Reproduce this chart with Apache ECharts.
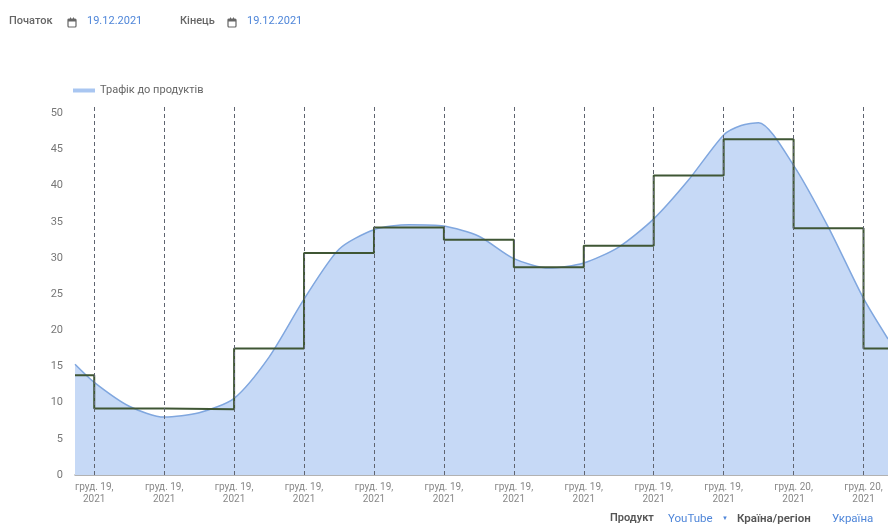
<!DOCTYPE html>
<html>
<head>
<meta charset="utf-8">
<script src="https://cdn.jsdelivr.net/npm/echarts@6/dist/echarts.min.js"></script>
<style>html,body{margin:0;padding:0;background:#fff}#c{width:888px;height:532px}</style>
</head>
<body>
<div id="c"></div>
<script>
// ---- data ----
var seriesName = 'Трафік до продуктів';
var trafficHours = [1.45, 2, 3, 4, 5, 6, 7, 8, 9, 10, 11, 12, 13, 14, 15, 16, 17, 18, 19, 20, 20.5, 21, 22, 23, 24, 24.7];
var trafficValues = [15.3, 12.8, 9.5, 8.0, 8.6, 10.6, 16.3, 24.3, 31.2, 33.9, 34.6, 34.4, 33.0, 29.9, 28.6, 29.3, 31.5, 35.4, 40.8, 47.0, 48.3, 48.7, 42.8, 34.2, 24.4, 18.8];
var stepHours = [1.45, 2, 4, 6, 8, 10, 12, 14, 16, 18, 20, 22, 24, 24.7];
var stepValues = [13.8, 9.2, 9.1, 17.5, 30.7, 34.2, 32.5, 28.7, 31.7, 41.4, 46.4, 34.1, 17.5, 17.5];
var tickHours = [2, 4, 6, 8, 10, 12, 14, 16, 18, 20, 22, 24];
var tickLabels = ['груд. 19,\n2021','груд. 19,\n2021','груд. 19,\n2021','груд. 19,\n2021','груд. 19,\n2021','груд. 19,\n2021','груд. 19,\n2021','груд. 19,\n2021','груд. 19,\n2021','груд. 19,\n2021','груд. 20,\n2021','груд. 20,\n2021'];

function zip(xs, ys){ return xs.map(function(x,i){ return [x, ys[i]]; }); }

var chart = echarts.init(document.getElementById('c'), null, {renderer:'canvas'});
var FONT = 'Roboto, "Noto Sans", sans-serif';

function calIcon(x, y){
  return {
    type:'group', x:x, y:y, silent:true,
    children:[
      {type:'rect', shape:{x:0,y:0,width:8,height:8,r:1}, style:{fill:'none', stroke:'#666', lineWidth:1.2}},
      {type:'rect', shape:{x:0,y:0,width:8,height:2.5}, style:{fill:'#666'}},
      {type:'rect', shape:{x:2,y:-1.5,width:1,height:2}, style:{fill:'#666'}},
      {type:'rect', shape:{x:5,y:-1.5,width:1,height:2}, style:{fill:'#666'}}
    ]
  };
}
function txt(x, y, s, color, font){
  return {type:'text', left:x, top:y, silent:true, style:{text:s, fill:color, font:font}};
}

chart.setOption({
  animation:false,
  textStyle:{fontFamily:FONT},
  grid:{left:75, right:0, top:106, bottom:57, containLabel:false},
  legend:{
    data:[seriesName], left:68, top:80, itemWidth:22, itemHeight:4, itemGap:6,
    icon:'rect',
    textStyle:{color:'#666', fontSize:11, fontFamily:FONT}
  },
  graphic:[
    txt(9, 16, 'Початок', '#666', '500 11px '+FONT),
    calIcon(68, 19),
    txt(87, 16, '19.12.2021', '#4f86d9', '11px '+FONT),
    txt(180, 16, 'Кінець', '#666', '500 11px '+FONT),
    calIcon(228, 19),
    txt(247, 16, '19.12.2021', '#4f86d9', '11px '+FONT),
    txt(610, 513, 'Продукт', '#555', '600 11px '+FONT),
    txt(668, 513, 'YouTube', '#4f86d9', '11.5px '+FONT),
    txt(722, 515, '▼', '#4f86d9', '6px '+FONT),
    txt(737, 513, 'Країна/регіон', '#555', '600 11.5px '+FONT),
    txt(832, 513, 'Україна', '#4f86d9', '11.5px '+FONT)
  ],
  xAxis:{
    type:'value', min:1.45, max:24.7,
    axisLine:{show:true, lineStyle:{color:'#999', width:1.5}},
    axisTick:{show:false},
    splitLine:{show:false},
    axisLabel:{
      customValues: tickHours,
      color:'#888', fontSize:10, lineHeight:12, margin:6, align:'center',
      formatter:function(v){ var i = tickHours.indexOf(v); return i >= 0 ? tickLabels[i] : ''; }
    }
  },
  yAxis:{
    type:'value', min:0, max:51, interval:5,
    axisLine:{show:false}, axisTick:{show:false}, splitLine:{show:false},
    axisLabel:{color:'#777', fontSize:11, margin:12, showMaxLabel:false}
  },
  series:[
    {
      name:seriesName, type:'line', smooth:0.25, symbol:'none',
      data: zip(trafficHours, trafficValues),
      lineStyle:{color:'#80a7df', width:1.5},
      itemStyle:{color:'#a9c6f1'},
      areaStyle:{color:'#c6d9f6', opacity:1},
      z:1
    },
    {
      name:'step', type:'line', step:'end', symbol:'none',
      data: zip(stepHours, stepValues),
      lineStyle:{color:'#3f5634', width:2},
      z:3,
      markLine:{
        silent:true, symbol:['none','none'], label:{show:false},
        lineStyle:{type:[4,3], color:'#5f6470', width:1},
        data: tickHours.map(function(h){ return {xAxis:h}; })
      }
    }
  ]
});
</script>
</body>
</html>
